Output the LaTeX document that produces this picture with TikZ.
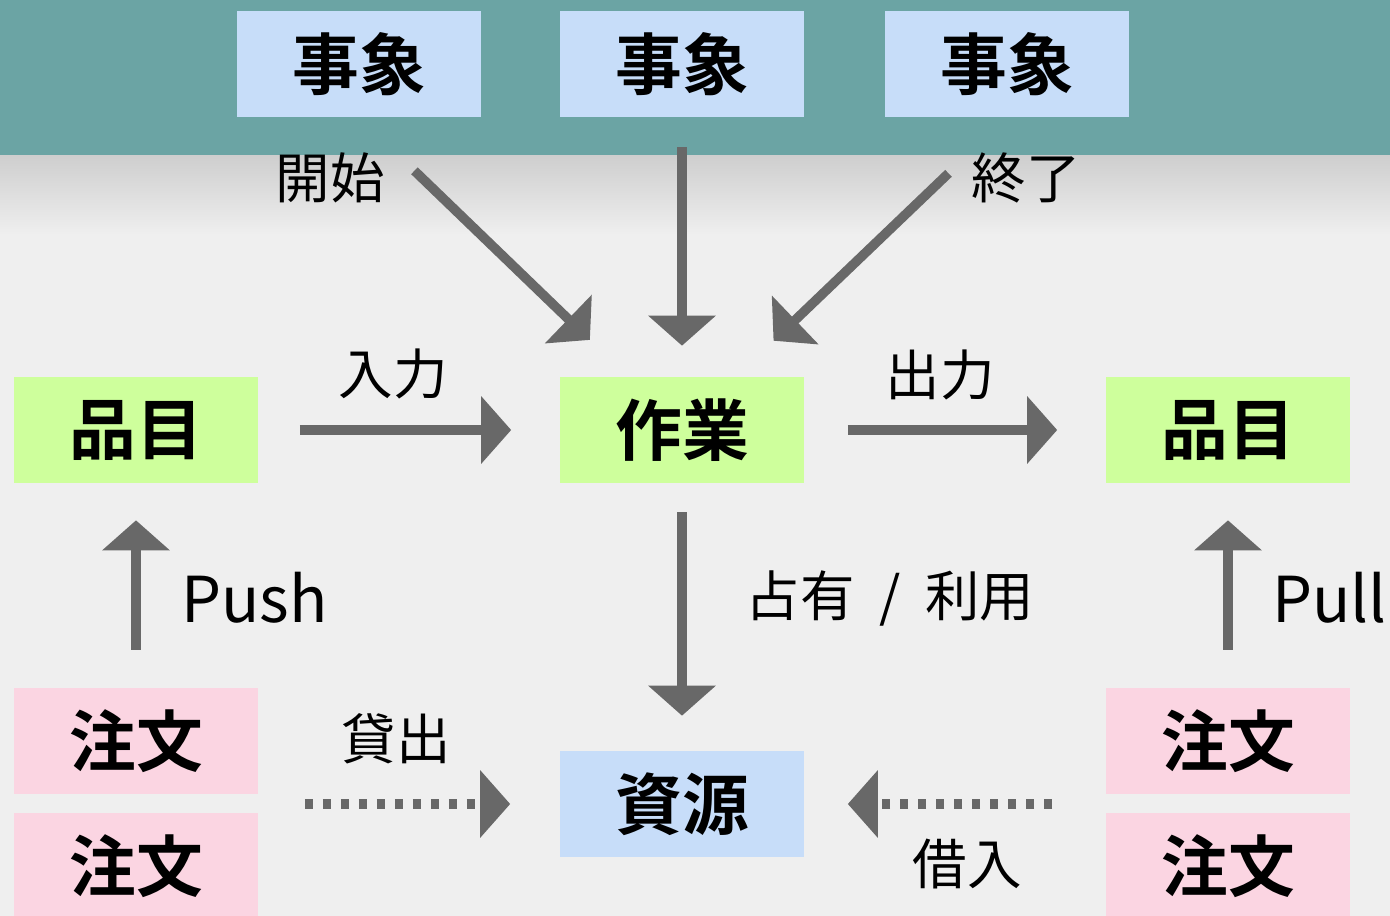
\documentclass[tikz,border=0pt]{standalone}
\usepackage{fontspec}
\setmainfont{Noto Sans CJK JP}[BoldFont={* Bold}]
\usepackage{tikz}
\usetikzlibrary{positioning,calc,arrows.meta}

\definecolor{bandteal}{HTML}{6BA4A4}
\definecolor{paper}{HTML}{EFEFEF}
\definecolor{evblue}{HTML}{C7DDF9}
\definecolor{itemgreen}{HTML}{CEFF9C}
\definecolor{orderpink}{HTML}{FBD5E2}
\definecolor{flowgray}{HTML}{686868}

\begin{document}
\begin{tikzpicture}[x=0.02cm, y=-0.02cm,
    box/.style={minimum width=4.9cm, minimum height=2.12cm, inner sep=0pt,
                font=\fontsize{38}{40}\selectfont\bfseries},
    event/.style={box, fill=evblue},
    item/.style={box, fill=itemgreen},
    order/.style={box, fill=orderpink},
    lbl/.style={inner sep=0pt, font=\fontsize{31}{33}\selectfont},
    latin/.style={lbl, anchor=west, font=\fontsize{36}{38}\selectfont},
    flow/.style={draw=flowgray, line width=0.19cm,
                 -{Triangle[width=1.32cm,length=0.6cm]}},
    dotflow/.style={flow, dash pattern=on 0.16cm off 0.2cm}]
    % background
    \useasboundingbox (0,0) rectangle (1390,916);
    \fill [paper] (0,0) rectangle (1390,916);
    \shade [top color=black!20, bottom color=paper] (0,150) rectangle (1390,235);
    \fill [bandteal] (0,0) rectangle (1390,155);

    % boxes
    \node [event] (ev1) at (359,64) {事象};
    \node [event] (ev2) at (682,64) {事象};
    \node [event] (ev3) at (1007,64) {事象};
    \node [item] (work) at (682,430) {作業};
    \node [item] (qty1) at (136,430) {品目};
    \node [item] (qty2) at (1228,430) {品目};
    \node [box, fill=evblue] (res) at (682,804) {資源};
    \node [order] (ord1) at (136,741) {注文};
    \node [order, below=0.36cm of ord1] (ord2) {注文};
    \node [order] (ord3) at (1228,741) {注文};
    \node [order, below=0.36cm of ord3] (ord4) {注文};

    % labels
    \node [lbl] (start) at (330,178) {開始};
    \node [lbl] (finish) at (1026,178) {終了};
    \node [lbl] (input) at (393,374) {入力};
    \node [lbl] (output) at (940,375) {出力};
    \node [latin] (push) at (181,598) {Push};
    \node [lbl] (use) at (890,598) {占有\hspace{0.45em}/\hspace{0.45em}利用};
    \node [latin, anchor=east] (pull) at (1387,598) {Pull};
    \node [lbl] (lend) at (396,739) {貸出};
    \node [lbl] (borrow) at (967,864) {借入};

    % arrows
    \draw [flow, shorten <=1.54cm, shorten >=1.06cm] (ev1.south) -- ([xshift=-1.08cm]work.north);
    \draw [flow, shorten <=0.6cm, shorten >=0.62cm] (ev2.south) -- (work.north);
    \draw [flow, shorten <=1.62cm, shorten >=1.04cm] (ev3.south) -- ([xshift=1.08cm]work.north);
    \draw [flow, shorten <=0.82cm, shorten >=0.96cm] (qty1.east) -- (work.west);
    \draw [flow, shorten <=0.86cm, shorten >=0.96cm] (work.east) -- (qty2.west);
    \draw [flow, shorten <=0.58cm, shorten >=0.7cm] (work.south) -- (res.north);
    \draw [flow, shorten <=0.76cm, shorten >=0.74cm] (ord1.north) -- (qty1.south);
    \draw [flow, shorten <=0.76cm, shorten >=0.74cm] (ord3.north) -- (qty2.south);
    \draw [dotflow, shorten <=0.92cm, shorten >=0.98cm] (ord1.east |- res.west) -- (res.west);
    \draw [dotflow, shorten <=1.06cm, shorten >=0.86cm] (ord3.west |- res.east) -- (res.east);
\end{tikzpicture}
\end{document}
